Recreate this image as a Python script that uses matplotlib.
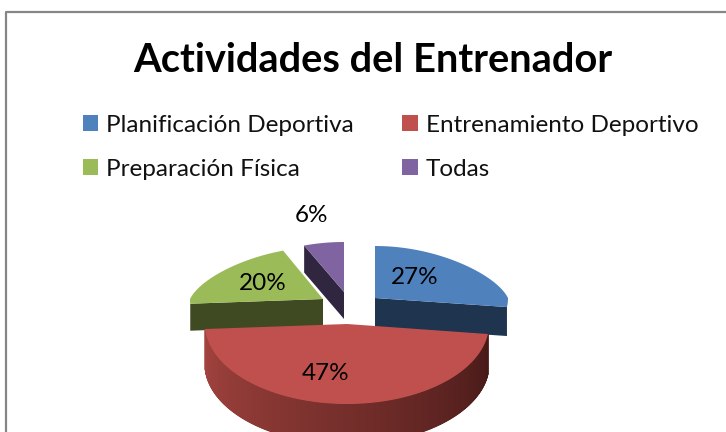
import numpy as np
import matplotlib
matplotlib.use('Agg')
import matplotlib.pyplot as plt
from matplotlib.patches import Patch, Polygon
from matplotlib.colors import to_rgb

title = 'Actividades del Entrenador'
labels = ['Planificación Deportiva', 'Entrenamiento Deportivo', 'Preparación Física', 'Todas']
values = [27, 47, 20, 6]
colors = ['#4F81BD', '#C0504D', '#9BBB59', '#8064A2']
side_colors = ['#1E344F', '#7A302E', '#3F4A22', '#30263F']

# center x, center y, rx, back ry, front ry, depth for every slice (pixels)
slice_geom = [
    (375, 298, 133, 52, 72, 29),
    (347, 324, 142, 52, 80, 40),
    (323, 299, 133, 52, 75, 27),
    (344, 292, 133, 50, 75, 27),
]
label_pos = [(415, 278), (326, 373), (263, 284), (312, 216)]

plt.rcParams['font.family'] = ['Lato', 'DejaVu Sans']

fig = plt.figure(figsize=(7.26, 4.32), dpi=100)
ax = fig.add_axes([0, 0, 1, 1])
ax.set_xlim(0, 726)
ax.set_ylim(432, 0)
ax.axis('off')

# chart frame, open on the right and bottom like the crop
ax.plot([5.5, 5.5, 726], [432, 11.5, 11.5], color='#868686', lw=1.6, solid_capstyle='butt')


def project(theta, geom):
    # theta is clockwise from 12 o'clock, the back half is squashed for perspective
    cx, cy, rx, ry_back, ry_front, depth = geom
    c = np.cos(theta)
    s = np.sin(theta)
    ry = np.where(c > 0, ry_back, ry_front)
    shrink = 1 - 0.2 * np.maximum(c, 0)
    return cx + rx * s * shrink, cy - ry * c


edges = np.cumsum([0] + values) / sum(values) * 2 * np.pi
# draw the far slices first, the big red one sits on top
for i in [3, 2, 0, 1]:
    geom = slice_geom[i]
    cx, cy, depth = geom[0], geom[1], geom[5]
    theta = np.linspace(edges[i], edges[i + 1], 400)
    x, y = project(theta, geom)

    if i == 1:
        # outer wall with a left to right shading
        light = np.array(to_rgb('#A5443F'))
        dark = np.array(to_rgb('#471A18'))
        order = np.argsort(x)
        xs, ys = x[order], y[order]
        for j in range(len(xs) - 1):
            f = j / (len(xs) - 2)
            shade = light + (dark - light) * f
            quad = [(xs[j], ys[j]), (xs[j + 1], ys[j + 1]),
                    (xs[j + 1], ys[j + 1] + depth), (xs[j], ys[j] + depth)]
            ax.add_patch(Polygon(quad, closed=True, fc=shade, ec=shade, lw=0.8))
    else:
        # flat inner cut that faces the viewer
        end = -1 if i == 0 else 0
        quad = [(cx, cy), (x[end], y[end]), (x[end], y[end] + depth), (cx, cy + depth)]
        ax.add_patch(Polygon(quad, closed=True, fc=side_colors[i], ec='none'))

    top = np.column_stack([np.r_[cx, x], np.r_[cy, y]])
    ax.add_patch(Polygon(top, closed=True, fc=colors[i], ec='none'))

for v, (px, py) in zip(values, label_pos):
    ax.text(px, py, f'{v}%', ha='center', va='center', fontsize=17.5, color='black')

ax.text(373, 60, title, ha='center', va='center', fontsize=28.7, fontweight='bold', color='black')

# matplotlib fills legend columns first, the reference reads row by row
order = [0, 2, 1, 3]
handles = [Patch(fc=colors[i], ec='none') for i in order]
ax.legend(handles, [labels[i] for i in order], ncol=2, frameon=False, fontsize=17.5,
          loc='upper left', bbox_to_anchor=(83 / 726, 1 - 114.5 / 432), borderaxespad=0, borderpad=0,
          handlelength=0.62, handleheight=0.62, handletextpad=0.33,
          columnspacing=2.0, labelspacing=0.95, labelcolor='#111111')

fig.savefig('out.png', dpi=100)
